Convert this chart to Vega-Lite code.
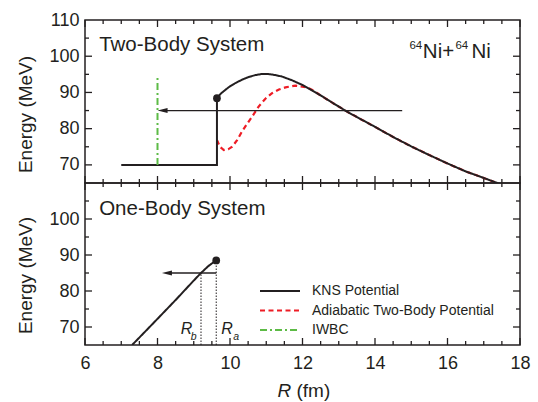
{
  "$schema": "https://vega.github.io/schema/vega-lite/v6.json",
  "padding": {"left": 15, "top": 10, "right": 5, "bottom": 0},
  "spacing": 0,
  "bounds": "flush",
  "config": {
    "view": {"stroke": "#231f20", "strokeWidth": 1.5},
    "font": "Liberation Sans",
    "axis": {"grid": false, "domain": false, "ticks": false, "labelFont": "Liberation Sans", "labelFontSize": 18, "labelColor": "#231f20", "titleFont": "Liberation Sans", "titleFontSize": 19, "titleFontWeight": "normal", "titleColor": "#231f20", "labelFlush": false, "labelOverlap": false, "labelBound": false},
    "text": {"font": "Liberation Sans", "color": "#231f20"},
    "tick": {"opacity": 1, "color": "#231f20", "thickness": 1.3}
  },
  "datasets": {
    "xmaj": [{"x": 6}, {"x": 8}, {"x": 10}, {"x": 12}, {"x": 14}, {"x": 16}, {"x": 18}],
    "xmin": [{"x": 6.5}, {"x": 7}, {"x": 7.5}, {"x": 8.5}, {"x": 9}, {"x": 9.5}, {"x": 10.5}, {"x": 11}, {"x": 11.5}, {"x": 12.5}, {"x": 13}, {"x": 13.5}, {"x": 14.5}, {"x": 15}, {"x": 15.5}, {"x": 16.5}, {"x": 17}, {"x": 17.5}],
    "ymaj": [{"E": 70}, {"E": 80}, {"E": 90}, {"E": 100}],
    "ymin": [{"E": 75}, {"E": 85}, {"E": 95}, {"E": 105}],
    "top_curves": [
      {"s": "Adiabatic Two-Body Potential", "o": 1, "x": 9.64, "E": 76.9},
      {"s": "Adiabatic Two-Body Potential", "o": 2, "x": 9.72, "E": 75.0},
      {"s": "Adiabatic Two-Body Potential", "o": 3, "x": 9.83, "E": 74.1},
      {"s": "Adiabatic Two-Body Potential", "o": 4, "x": 9.95, "E": 74.3},
      {"s": "Adiabatic Two-Body Potential", "o": 5, "x": 10.06, "E": 75.0},
      {"s": "Adiabatic Two-Body Potential", "o": 6, "x": 10.2, "E": 76.9},
      {"s": "Adiabatic Two-Body Potential", "o": 7, "x": 10.33, "E": 79.2},
      {"s": "Adiabatic Two-Body Potential", "o": 8, "x": 10.47, "E": 81.3},
      {"s": "Adiabatic Two-Body Potential", "o": 9, "x": 10.61, "E": 83.3},
      {"s": "Adiabatic Two-Body Potential", "o": 10, "x": 10.79, "E": 86.1},
      {"s": "Adiabatic Two-Body Potential", "o": 11, "x": 10.97, "E": 88.2},
      {"s": "Adiabatic Two-Body Potential", "o": 12, "x": 11.16, "E": 89.8},
      {"s": "Adiabatic Two-Body Potential", "o": 13, "x": 11.35, "E": 90.8},
      {"s": "Adiabatic Two-Body Potential", "o": 14, "x": 11.53, "E": 91.4},
      {"s": "Adiabatic Two-Body Potential", "o": 15, "x": 11.8, "E": 91.9},
      {"s": "Adiabatic Two-Body Potential", "o": 16, "x": 12.12, "E": 91.4},
      {"s": "Adiabatic Two-Body Potential", "o": 17, "x": 12.3, "E": 90.5},
      {"s": "Adiabatic Two-Body Potential", "o": 18, "x": 12.45, "E": 89.5},
      {"s": "Adiabatic Two-Body Potential", "o": 19, "x": 12.77, "E": 87.5},
      {"s": "Adiabatic Two-Body Potential", "o": 20, "x": 13.0, "E": 86.1},
      {"s": "Adiabatic Two-Body Potential", "o": 21, "x": 13.23, "E": 84.7},
      {"s": "Adiabatic Two-Body Potential", "o": 22, "x": 13.5, "E": 83.2},
      {"s": "Adiabatic Two-Body Potential", "o": 23, "x": 14.0, "E": 80.5},
      {"s": "Adiabatic Two-Body Potential", "o": 24, "x": 14.5, "E": 77.7},
      {"s": "Adiabatic Two-Body Potential", "o": 25, "x": 15.0, "E": 75.1},
      {"s": "Adiabatic Two-Body Potential", "o": 26, "x": 15.5, "E": 72.7},
      {"s": "Adiabatic Two-Body Potential", "o": 27, "x": 16.0, "E": 70.4},
      {"s": "Adiabatic Two-Body Potential", "o": 28, "x": 16.5, "E": 68.2},
      {"s": "Adiabatic Two-Body Potential", "o": 29, "x": 17.0, "E": 66.4},
      {"s": "Adiabatic Two-Body Potential", "o": 30, "x": 17.4, "E": 64.9},
      {"s": "KNS Potential", "o": 1, "x": 7.0, "E": 70},
      {"s": "KNS Potential", "o": 2, "x": 9.64, "E": 70},
      {"s": "KNS Potential", "o": 3, "x": 9.64, "E": 88.4},
      {"s": "KNS Potential", "o": 4, "x": 9.75, "E": 89.7},
      {"s": "KNS Potential", "o": 5, "x": 9.87, "E": 90.7},
      {"s": "KNS Potential", "o": 6, "x": 10.0, "E": 91.7},
      {"s": "KNS Potential", "o": 7, "x": 10.15, "E": 92.6},
      {"s": "KNS Potential", "o": 8, "x": 10.33, "E": 93.5},
      {"s": "KNS Potential", "o": 9, "x": 10.5, "E": 94.2},
      {"s": "KNS Potential", "o": 10, "x": 10.7, "E": 94.8},
      {"s": "KNS Potential", "o": 11, "x": 10.88, "E": 95.1},
      {"s": "KNS Potential", "o": 12, "x": 11.05, "E": 95.1},
      {"s": "KNS Potential", "o": 13, "x": 11.25, "E": 94.8},
      {"s": "KNS Potential", "o": 14, "x": 11.43, "E": 94.4},
      {"s": "KNS Potential", "o": 15, "x": 11.7, "E": 93.4},
      {"s": "KNS Potential", "o": 16, "x": 11.99, "E": 92.1},
      {"s": "KNS Potential", "o": 17, "x": 12.2, "E": 90.9},
      {"s": "KNS Potential", "o": 18, "x": 12.45, "E": 89.5},
      {"s": "KNS Potential", "o": 19, "x": 12.77, "E": 87.5},
      {"s": "KNS Potential", "o": 20, "x": 13.0, "E": 86.1},
      {"s": "KNS Potential", "o": 21, "x": 13.23, "E": 84.7},
      {"s": "KNS Potential", "o": 22, "x": 13.5, "E": 83.2},
      {"s": "KNS Potential", "o": 23, "x": 14.0, "E": 80.5},
      {"s": "KNS Potential", "o": 24, "x": 14.5, "E": 77.7},
      {"s": "KNS Potential", "o": 25, "x": 15.0, "E": 75.1},
      {"s": "KNS Potential", "o": 26, "x": 15.5, "E": 72.7},
      {"s": "KNS Potential", "o": 27, "x": 16.0, "E": 70.4},
      {"s": "KNS Potential", "o": 28, "x": 16.5, "E": 68.2},
      {"s": "KNS Potential", "o": 29, "x": 17.0, "E": 66.4},
      {"s": "KNS Potential", "o": 30, "x": 17.4, "E": 64.9},
      {"s": "IWBC", "o": 1, "x": 8.0, "E": 70},
      {"s": "IWBC", "o": 2, "x": 8.0, "E": 94.2}
    ],
    "top_arrow": [{"x": 8.14, "x2": 14.75, "E": 85}],
    "top_head": [{"x": 8.14, "E": 85}],
    "top_dot": [{"x": 9.64, "E": 88.4}],
    "top_text": [{"t": "Two-Body System", "x": 6.39, "E": 101.4}],
    "top_ni": [{"t": "Ni+", "x": 15.32, "E": 99.6}, {"t": "Ni", "x": 16.66, "E": 99.6}],
    "top_mass": [{"t": "64", "x": 14.95, "E": 101.9}, {"t": "64", "x": 16.22, "E": 101.9}],
    "bot_curve": [
      {"s": "KNS Potential", "o": 1, "x": 7.3, "E": 65},
      {"s": "KNS Potential", "o": 2, "x": 7.85, "E": 70.7},
      {"s": "KNS Potential", "o": 3, "x": 8.5, "E": 77.5},
      {"s": "KNS Potential", "o": 4, "x": 9.0, "E": 82.9},
      {"s": "KNS Potential", "o": 5, "x": 9.18, "E": 84.8},
      {"s": "KNS Potential", "o": 6, "x": 9.4, "E": 86.9},
      {"s": "KNS Potential", "o": 7, "x": 9.52, "E": 87.8},
      {"s": "KNS Potential", "o": 8, "x": 9.62, "E": 88.5}
    ],
    "bot_arrow": [{"x": 8.26, "x2": 9.62, "E": 85}],
    "bot_head": [{"x": 8.26, "E": 85}],
    "bot_dot": [{"x": 9.62, "E": 88.5}],
    "bot_drop": [{"x": 9.2, "E": 65, "E2": 85}, {"x": 9.62, "E": 65, "E2": 88.5}],
    "bot_text": [{"t": "One-Body System", "x": 6.39, "E": 101.1}],
    "bot_R": [{"t": "R", "x": 8.8, "E": 68.15}, {"t": "R", "x": 9.92, "E": 68.15}],
    "bot_sub": [{"t": "b", "x": 9.0, "E": 66.4}, {"t": "a", "x": 10.17, "E": 66.4}]
  },
  "vconcat": [
    {
      "width": 435,
      "height": 163,
      "layer": [
        {
          "data": {"name": "top_curves"},
          "transform": [{"filter": "datum.s === 'Adiabatic Two-Body Potential'"}],
          "mark": {"type": "line", "strokeWidth": 2.2, "clip": true},
          "encoding": {
            "x": {"field": "x", "type": "quantitative", "scale": {"domain": [6, 18], "nice": false, "zero": false}, "axis": null},
            "y": {"field": "E", "type": "quantitative", "scale": {"domain": [65, 110], "nice": false, "zero": false},
              "axis": {"orient": "left", "values": [70,80,90,100,110], "labelPadding": 6,
                "title": "Energy (MeV)", "titleFontWeight": "normal", "titleX": -50, "titleY": 94}},
            "color": {"field": "s", "type": "nominal", "scale": {"domain": ["KNS Potential", "Adiabatic Two-Body Potential", "IWBC"], "range": ["#231f20", "#ee1c25", "#5dbb46"]}, "legend": null},
            "strokeDash": {"field": "s", "type": "nominal", "scale": {"domain": ["KNS Potential", "Adiabatic Two-Body Potential", "IWBC"], "range": [[1, 0], [5, 3.5], [7, 3, 2, 3]]}, "legend": null},
            "order": {"field": "o", "type": "quantitative"}
          }
        },
        {
          "data": {"name": "top_curves"},
          "transform": [{"filter": "datum.s !== 'Adiabatic Two-Body Potential'"}],
          "mark": {"type": "line", "strokeWidth": 2, "clip": true},
          "encoding": {
            "x": {"field": "x", "type": "quantitative", "axis": null},
            "y": {"field": "E", "type": "quantitative", "axis": null},
            "color": {"field": "s", "type": "nominal", "legend": null},
            "strokeDash": {"field": "s", "type": "nominal", "legend": null},
            "order": {"field": "o", "type": "quantitative"}
          }
        },
        {"data": {"name": "xmaj"}, "mark": {"type": "tick", "orient": "vertical", "size": 7, "yOffset": -3.5},
          "encoding": {"x": {"field": "x", "type": "quantitative", "axis": null}, "y": {"datum": 65, "type": "quantitative", "axis": null}}},
        {"data": {"name": "xmaj"}, "mark": {"type": "tick", "orient": "vertical", "size": 7, "yOffset": 3.5},
          "encoding": {"x": {"field": "x", "type": "quantitative", "axis": null}, "y": {"datum": 110, "type": "quantitative", "axis": null}}},
        {"data": {"name": "xmin"}, "mark": {"type": "tick", "orient": "vertical", "size": 4, "yOffset": -2},
          "encoding": {"x": {"field": "x", "type": "quantitative", "axis": null}, "y": {"datum": 65, "type": "quantitative", "axis": null}}},
        {"data": {"name": "xmin"}, "mark": {"type": "tick", "orient": "vertical", "size": 4, "yOffset": 2},
          "encoding": {"x": {"field": "x", "type": "quantitative", "axis": null}, "y": {"datum": 110, "type": "quantitative", "axis": null}}},
        {"data": {"name": "ymaj"}, "mark": {"type": "tick", "orient": "horizontal", "size": 7, "xOffset": 3.5},
          "encoding": {"y": {"field": "E", "type": "quantitative", "axis": null}, "x": {"datum": 6, "type": "quantitative", "axis": null}}},
        {"data": {"name": "ymaj"}, "mark": {"type": "tick", "orient": "horizontal", "size": 7, "xOffset": -3.5},
          "encoding": {"y": {"field": "E", "type": "quantitative", "axis": null}, "x": {"datum": 18, "type": "quantitative", "axis": null}}},
        {"data": {"name": "ymin"}, "mark": {"type": "tick", "orient": "horizontal", "size": 4, "xOffset": 2},
          "encoding": {"y": {"field": "E", "type": "quantitative", "axis": null}, "x": {"datum": 6, "type": "quantitative", "axis": null}}},
        {"data": {"name": "ymin"}, "mark": {"type": "tick", "orient": "horizontal", "size": 4, "xOffset": -2},
          "encoding": {"y": {"field": "E", "type": "quantitative", "axis": null}, "x": {"datum": 18, "type": "quantitative", "axis": null}}},
        {
          "data": {"name": "top_arrow"},
          "mark": {"type": "rule", "strokeWidth": 1.3, "color": "#231f20"},
          "encoding": {
            "x": {"field": "x", "type": "quantitative", "axis": null},
            "x2": {"field": "x2"},
            "y": {"field": "E", "type": "quantitative", "axis": null}
          }
        },
        {
          "data": {"name": "top_head"},
          "mark": {"type": "point", "shape": "M-1,0L1,-0.5L1,0.5Z", "size": 100, "filled": true, "opacity": 1, "color": "#231f20"},
          "encoding": {
            "x": {"field": "x", "type": "quantitative", "axis": null},
            "y": {"field": "E", "type": "quantitative", "axis": null}
          }
        },
        {
          "data": {"name": "top_dot"},
          "mark": {"type": "point", "shape": "circle", "size": 60, "filled": true, "opacity": 1, "color": "#231f20"},
          "encoding": {
            "x": {"field": "x", "type": "quantitative", "axis": null},
            "y": {"field": "E", "type": "quantitative", "axis": null}
          }
        },
        {
          "data": {"name": "top_text"},
          "mark": {"type": "text", "align": "left", "baseline": "alphabetic", "fontSize": 20.5},
          "encoding": {
            "text": {"field": "t"},
            "x": {"field": "x", "type": "quantitative", "axis": null},
            "y": {"field": "E", "type": "quantitative", "axis": null}
          }
        },
        {
          "data": {"name": "top_ni"},
          "mark": {"type": "text", "align": "left", "baseline": "alphabetic", "fontSize": 20.5},
          "encoding": {
            "text": {"field": "t"},
            "x": {"field": "x", "type": "quantitative", "axis": null},
            "y": {"field": "E", "type": "quantitative", "axis": null}
          }
        },
        {
          "data": {"name": "top_mass"},
          "mark": {"type": "text", "align": "left", "baseline": "alphabetic", "fontSize": 11.5},
          "encoding": {
            "text": {"field": "t"},
            "x": {"field": "x", "type": "quantitative", "axis": null},
            "y": {"field": "E", "type": "quantitative", "axis": null}
          }
        }
      ],
      "resolve": {"axis": {"x": "independent", "y": "independent"}}
    },
    {
      "width": 435,
      "height": 162,
      "layer": [
        {
          "data": {"name": "bot_curve"},
          "mark": {"type": "line", "strokeWidth": 2, "clip": true},
          "encoding": {
            "x": {"field": "x", "type": "quantitative", "scale": {"domain": [6, 18], "nice": false, "zero": false},
              "axis": {"orient": "bottom", "values": [6,8,10,12,14,16,18], "format": "d", "labelPadding": 9,
                "title": "(fm)", "titleFontWeight": "normal", "titleAlign": "left", "titleX": 211, "titleY": 51, "titleBaseline": "alphabetic"}},
            "y": {"field": "E", "type": "quantitative", "scale": {"domain": [65, 110], "nice": false, "zero": false},
              "axis": {"orient": "left", "values": [70,80,90,100], "labelPadding": 6,
                "title": "Energy (MeV)", "titleFontWeight": "normal", "titleX": -50, "titleY": 92}},
            "color": {"field": "s", "type": "nominal", "scale": {"domain": ["KNS Potential", "Adiabatic Two-Body Potential", "IWBC"], "range": ["#231f20", "#ee1c25", "#5dbb46"]},
              "legend": {"orient": "none", "legendX": 188, "legendY": 101, "title": null, "symbolType": "M-4,0H4", "symbolSize": 100, "symbolStrokeWidth": 2, "symbolFillColor": "transparent", "labelFontSize": 14, "labelFont": "Liberation Sans", "labelColor": "#231f20", "labelOffset": 25, "labelLimit": 400, "rowPadding": 5.5, "padding": 0}},
            "strokeDash": {"field": "s", "type": "nominal", "scale": {"domain": ["KNS Potential", "Adiabatic Two-Body Potential", "IWBC"], "range": [[1, 0], [5, 3.5], [7, 3, 2, 3]]}},
            "order": {"field": "o", "type": "quantitative"}
          }
        },
        {"data": {"name": "xmaj"}, "mark": {"type": "tick", "orient": "vertical", "size": 7, "yOffset": -3.5},
          "encoding": {"x": {"field": "x", "type": "quantitative", "axis": null}, "y": {"datum": 65, "type": "quantitative", "axis": null}}},
        {"data": {"name": "xmaj"}, "mark": {"type": "tick", "orient": "vertical", "size": 7, "yOffset": 3.5},
          "encoding": {"x": {"field": "x", "type": "quantitative", "axis": null}, "y": {"datum": 110, "type": "quantitative", "axis": null}}},
        {"data": {"name": "xmin"}, "mark": {"type": "tick", "orient": "vertical", "size": 4, "yOffset": -2},
          "encoding": {"x": {"field": "x", "type": "quantitative", "axis": null}, "y": {"datum": 65, "type": "quantitative", "axis": null}}},
        {"data": {"name": "xmin"}, "mark": {"type": "tick", "orient": "vertical", "size": 4, "yOffset": 2},
          "encoding": {"x": {"field": "x", "type": "quantitative", "axis": null}, "y": {"datum": 110, "type": "quantitative", "axis": null}}},
        {"data": {"name": "ymaj"}, "mark": {"type": "tick", "orient": "horizontal", "size": 7, "xOffset": 3.5},
          "encoding": {"y": {"field": "E", "type": "quantitative", "axis": null}, "x": {"datum": 6, "type": "quantitative", "axis": null}}},
        {"data": {"name": "ymaj"}, "mark": {"type": "tick", "orient": "horizontal", "size": 7, "xOffset": -3.5},
          "encoding": {"y": {"field": "E", "type": "quantitative", "axis": null}, "x": {"datum": 18, "type": "quantitative", "axis": null}}},
        {"data": {"name": "ymin"}, "mark": {"type": "tick", "orient": "horizontal", "size": 4, "xOffset": 2},
          "encoding": {"y": {"field": "E", "type": "quantitative", "axis": null}, "x": {"datum": 6, "type": "quantitative", "axis": null}}},
        {"data": {"name": "ymin"}, "mark": {"type": "tick", "orient": "horizontal", "size": 4, "xOffset": -2},
          "encoding": {"y": {"field": "E", "type": "quantitative", "axis": null}, "x": {"datum": 18, "type": "quantitative", "axis": null}}},
        {
          "data": {"name": "bot_arrow"},
          "mark": {"type": "rule", "strokeWidth": 1.3, "color": "#231f20"},
          "encoding": {
            "x": {"field": "x", "type": "quantitative", "axis": null},
            "x2": {"field": "x2"},
            "y": {"field": "E", "type": "quantitative", "axis": null}
          }
        },
        {
          "data": {"name": "bot_head"},
          "mark": {"type": "point", "shape": "M-1,0L1,-0.5L1,0.5Z", "size": 100, "filled": true, "opacity": 1, "color": "#231f20"},
          "encoding": {
            "x": {"field": "x", "type": "quantitative", "axis": null},
            "y": {"field": "E", "type": "quantitative", "axis": null}
          }
        },
        {
          "data": {"name": "bot_dot"},
          "mark": {"type": "point", "shape": "circle", "size": 60, "filled": true, "opacity": 1, "color": "#231f20"},
          "encoding": {
            "x": {"field": "x", "type": "quantitative", "axis": null},
            "y": {"field": "E", "type": "quantitative", "axis": null}
          }
        },
        {
          "data": {"name": "bot_drop"},
          "mark": {"type": "rule", "strokeWidth": 1, "strokeDash": [1.5, 1.5], "color": "#231f20"},
          "encoding": {
            "x": {"field": "x", "type": "quantitative",
              "axis": {"orient": "bottom", "labels": false, "ticks": false, "values": [], "title": "R", "titleFontStyle": "italic", "titleFontWeight": "normal", "titleAlign": "left", "titleX": 192, "titleY": 51, "titleBaseline": "alphabetic"}},
            "y": {"field": "E", "type": "quantitative", "axis": null},
            "y2": {"field": "E2"}
          }
        },
        {
          "data": {"name": "bot_text"},
          "mark": {"type": "text", "align": "left", "baseline": "alphabetic", "fontSize": 20.5},
          "encoding": {
            "text": {"field": "t"},
            "x": {"field": "x", "type": "quantitative", "axis": null},
            "y": {"field": "E", "type": "quantitative", "axis": null}
          }
        },
        {
          "data": {"name": "bot_R"},
          "mark": {"type": "text", "align": "center", "baseline": "alphabetic", "fontSize": 16, "fontStyle": "italic"},
          "encoding": {
            "text": {"field": "t"},
            "x": {"field": "x", "type": "quantitative", "axis": null},
            "y": {"field": "E", "type": "quantitative", "axis": null}
          }
        },
        {
          "data": {"name": "bot_sub"},
          "mark": {"type": "text", "align": "center", "baseline": "alphabetic", "fontSize": 10.5, "fontStyle": "italic"},
          "encoding": {
            "text": {"field": "t"},
            "x": {"field": "x", "type": "quantitative", "axis": null},
            "y": {"field": "E", "type": "quantitative", "axis": null}
          }
        }
      ],
      "resolve": {"axis": {"x": "independent", "y": "independent"}}
    }
  ],
  "resolve": {"scale": {"color": "independent", "strokeDash": "independent"}}
}
